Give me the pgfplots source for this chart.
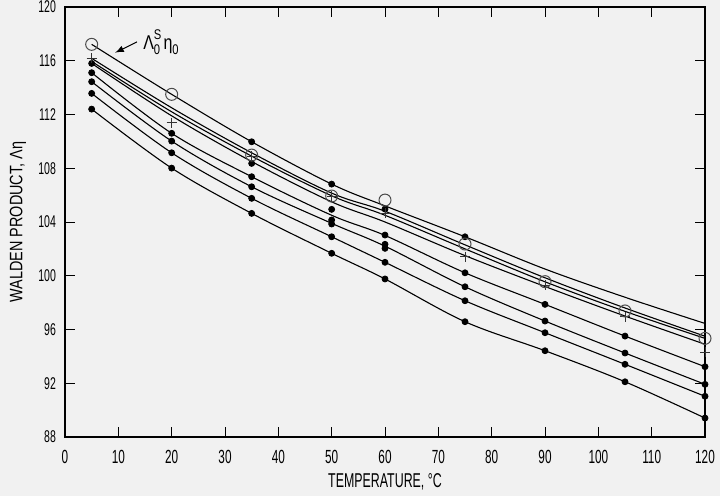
\documentclass[border=0pt]{standalone}
\usepackage{fontspec}
\setmainfont{Liberation Sans}
\newfontfamily\cond{Liberation Sans}[FakeStretch=0.62]
\newfontfamily\condb{Liberation Sans}[FakeStretch=0.8]
\usepackage{pgfplots}
\pgfplotsset{compat=1.18}
\usetikzlibrary{backgrounds,calc}
\definecolor{bg}{HTML}{F1F1F1}
\begin{document}
\begin{tikzpicture}
\begin{axis}[
 name=ax,
 scale only axis, width=320pt, height=215pt,
 xmin=0, xmax=120, ymin=88, ymax=120,
 xtick={0,10,...,120}, ytick={88,92,...,120},
 tick align=inside, major tick length=5pt,
 axis line style={line width=0.7pt},
 tick style={black, line width=0.45pt},
 /pgf/number format/assume math mode=true,
 xticklabel style={font=\cond\fontsize{9.5}{10}\selectfont, yshift=-3pt},
 yticklabel style={font=\cond\fontsize{8.5}{9}\selectfont, xshift=-1pt},
 clip=false,
]
\addplot[black, line width=0.55pt, smooth, tension=0.55] coordinates {(5,117.22) (20,113.5) (35,109.97) (50,106.82) (60,105.2) (75,102.9) (90,100.5) (105,98.4) (120,96.45)};
\addplot[black, line width=0.55pt, smooth, tension=0.55] coordinates {(5,116.18) (20,112.5) (35,109.15) (50,106.15) (60,104.8) (75,102.3) (90,99.85) (105,97.6) (120,95.5)};
\addplot[black, line width=0.55pt, smooth, tension=0.55] coordinates {(5,115.95) (20,112.2) (35,108.9) (50,105.95) (60,104.5) (75,102.0) (90,99.55) (105,97.35) (120,95.34)};
\addplot[black, line width=0.55pt, smooth, tension=0.55] coordinates {(5,115.8) (20,111.9) (35,108.5) (50,105.5) (60,104.0) (75,101.5) (90,99.2) (105,97.0) (120,94.9)};
\addplot[black, line width=0.55pt, smooth, tension=0.55] coordinates {(5,115.11) (20,110.6) (35,107.37) (50,104.5) (60,103.0) (75,100.22) (90,97.87) (105,95.51) (120,93.23)};
\addplot[black, line width=0.55pt, smooth, tension=0.55] coordinates {(5,114.44) (20,110.02) (35,106.62) (50,103.9) (60,102.2) (75,99.18) (90,96.63) (105,94.25) (120,91.92)};
\addplot[black, line width=0.55pt, smooth, tension=0.55] coordinates {(5,113.57) (20,109.15) (35,105.76) (50,102.9) (60,101.0) (75,98.14) (90,95.76) (105,93.41) (120,91.03)};
\addplot[black, line width=0.55pt, smooth, tension=0.55] coordinates {(5,112.40) (20,108.01) (35,104.64) (50,101.67) (60,99.76) (75,96.58) (90,94.42) (105,92.11) (120,89.41)};
% filled dots
\addplot[only marks, mark=*, mark size=1.5pt, black] coordinates {
(5,115.80) (5,115.11) (5,114.44) (5,113.57) (5,112.40)
(20,110.60) (20,110.02) (20,109.15) (20,108.01)
(35,109.97) (35,108.36) (35,107.37) (35,106.62) (35,105.76) (35,104.64)
(50,106.82) (50,104.94) (50,104.15) (50,103.85) (50,102.90) (50,101.67)
(60,104.96) (60,103.03) (60,102.34) (60,102.04) (60,101.00) (60,99.76)
(75,102.90) (75,100.22) (75,99.18) (75,98.14) (75,96.58)
(90,97.87) (90,96.63) (90,95.76) (90,94.42)
(105,95.51) (105,94.25) (105,93.41) (105,92.11)
(120,93.23) (120,91.92) (120,91.03) (120,89.41)};
% plus
\addplot[only marks, mark=+, mark size=2.5pt, black!80, line width=0.4pt] coordinates {
(5,116.18) (20,111.39) (35,108.9) (50,105.9) (60,104.67) (75,101.42) (90,99.3) (105,96.96) (120,94.30)};
% open circles
\addplot[only marks, mark=o, mark size=3pt, black!70, line width=0.5pt] coordinates {
(5,117.22) (20,113.50) (35,108.98) (50,105.93) (60,105.63) (75,102.36) (90,99.56) (105,97.38) (120,95.34)};
\node[anchor=west, inner sep=0pt, font=\condb\fontsize{10}{11}\selectfont] at (axis cs:14.6,117.4) {Λ\makebox[0pt][l]{\raisebox{1.0ex}{\fontsize{7}{7}\selectfont S}}\raisebox{-0.45ex}{\fontsize{7}{7}\selectfont 0}\,η\raisebox{-0.45ex}{\fontsize{7}{7}\selectfont 0}};
\draw[-latex, line width=0.5pt] (axis cs:13.5,117.4) -- (axis cs:9.4,116.6);
\end{axis}
\node[rotate=90, font=\condb\fontsize{9}{9}\selectfont] at ($(ax.west)+(-23.5pt,0)$) {WALDEN PRODUCT, Λη};
\node[font=\cond\fontsize{10}{12}\selectfont] at ($(ax.south)+(0,-22.5pt)$) {TEMPERATURE, °C};
\pgfresetboundingbox
\begin{pgfonlayer}{background}
\fill[bg] ($(ax.south west)+(-32.5pt,-29.5pt)$) rectangle ($(ax.north east)+(7.5pt,3.5pt)$);
\end{pgfonlayer}
\path ($(ax.south west)+(-32.5pt,-29.5pt)$) rectangle ($(ax.north east)+(7.5pt,3.5pt)$);
\end{tikzpicture}
\end{document}
